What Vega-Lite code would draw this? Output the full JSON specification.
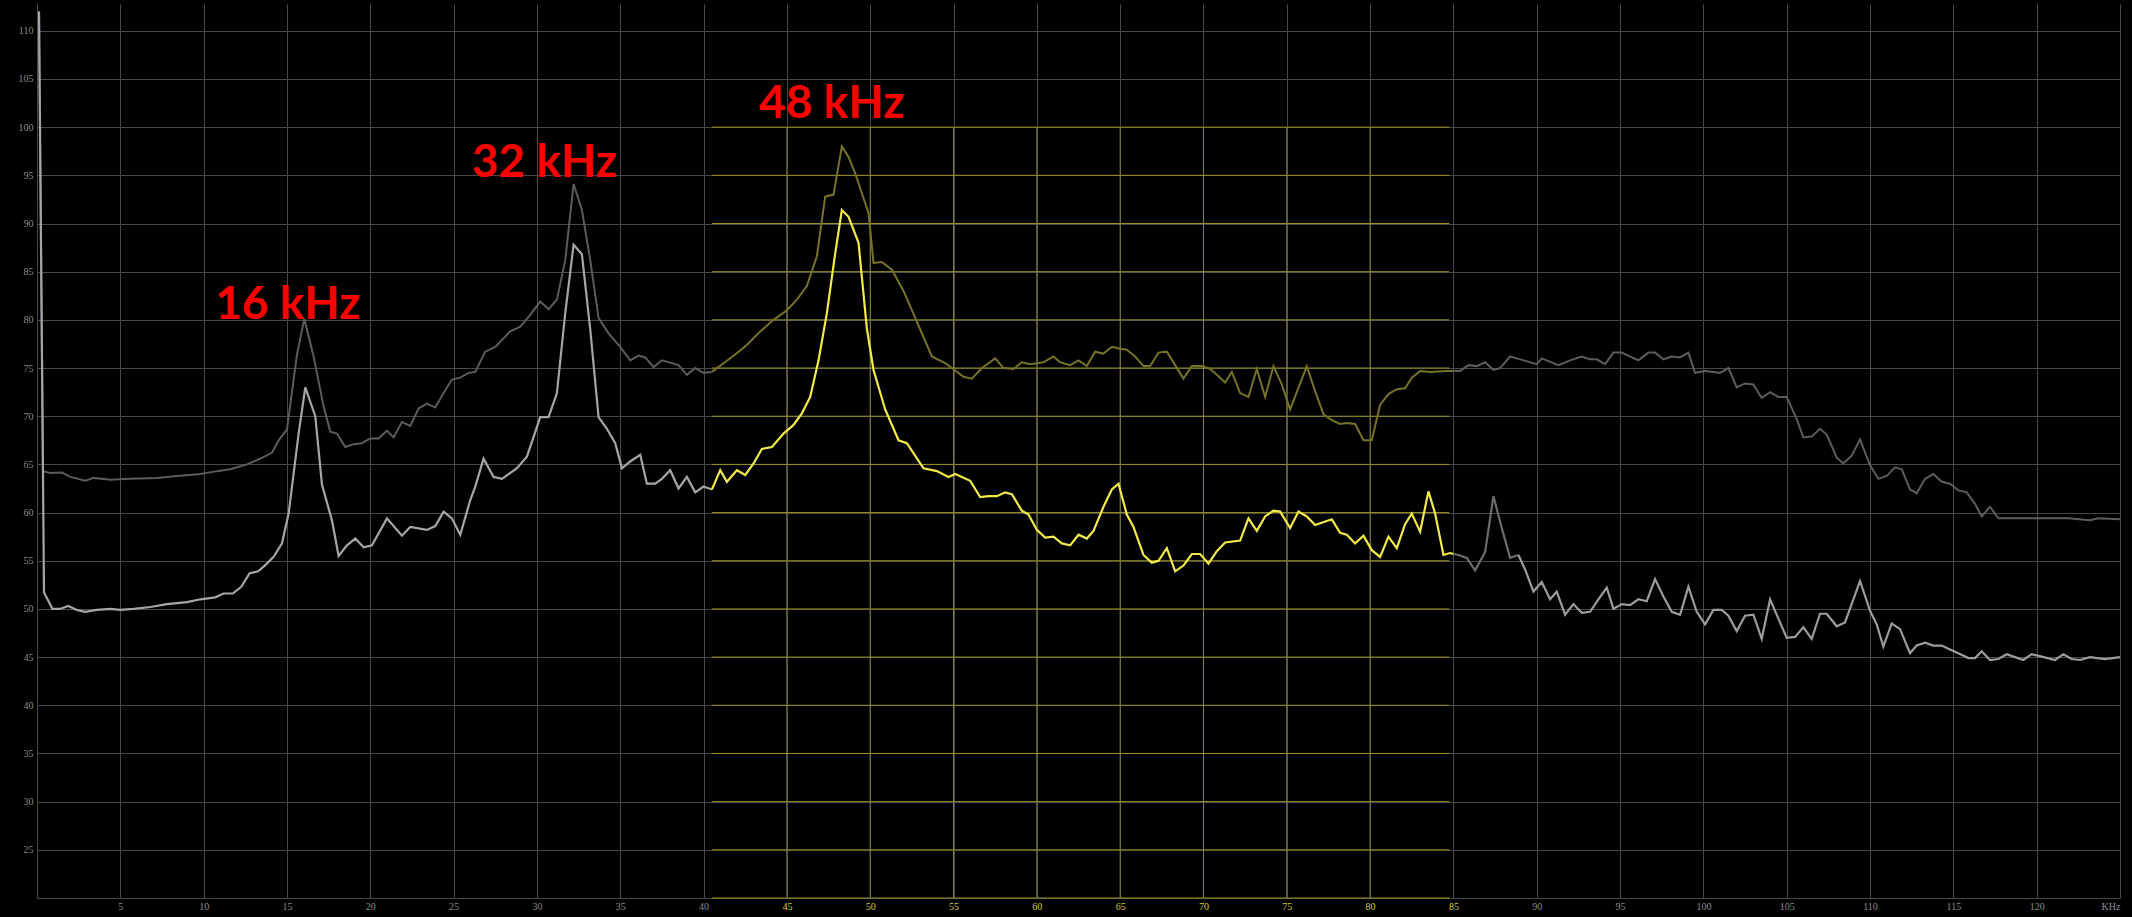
{
  "$schema": "https://vega.github.io/schema/vega-lite/v6.json",
  "autosize": {"type": "none"},
  "padding": {"left": 37, "top": 4, "right": 12, "bottom": 19},
  "width": 2083,
  "height": 894,
  "background": "#000000",
  "config": {
    "view": {"stroke": null},
    "axis": {"title": null, "domain": false, "ticks": false, "grid": true, "gridColor": "#484848", "gridWidth": 1,
      "labelFont": "Liberation Sans Narrow", "labelFontSize": 10, "labelColor": "#8c8c8c"}
  },
  "datasets": {
    "dark": [
      {"s":"d1","k":0.12,"v":112},{"s":"d1","k":0.36,"v":64.3},{"s":"d1","k":0.8,"v":64.1},{"s":"d1","k":1.5,"v":64.15},{"s":"d1","k":2.0,"v":63.7},{"s":"d1","k":2.9,"v":63.3},{"s":"d1","k":3.4,"v":63.6},{"s":"d1","k":4.4,"v":63.4},{"s":"d1","k":5.6,"v":63.5},{"s":"d1","k":7.2,"v":63.6},{"s":"d1","k":8.4,"v":63.8},{"s":"d1","k":9.8,"v":64.0},{"s":"d1","k":10.8,"v":64.3},{"s":"d1","k":11.6,"v":64.5},{"s":"d1","k":12.6,"v":65.0},{"s":"d1","k":13.4,"v":65.6},{"s":"d1","k":14.1,"v":66.2},{"s":"d1","k":14.5,"v":67.5},{"s":"d1","k":15.0,"v":68.6},{"s":"d1","k":15.6,"v":76.4},{"s":"d1","k":16.04,"v":80.1},{"s":"d1","k":16.6,"v":76.2},{"s":"d1","k":17.2,"v":71.0},{"s":"d1","k":17.6,"v":68.4},{"s":"d1","k":18.0,"v":68.2},{"s":"d1","k":18.5,"v":66.8},{"s":"d1","k":19.0,"v":67.1},{"s":"d1","k":19.5,"v":67.2},{"s":"d1","k":20.0,"v":67.7},{"s":"d1","k":20.5,"v":67.7},{"s":"d1","k":21.0,"v":68.5},{"s":"d1","k":21.4,"v":67.8},{"s":"d1","k":21.9,"v":69.4},{"s":"d1","k":22.4,"v":69.0},{"s":"d1","k":22.9,"v":70.8},{"s":"d1","k":23.4,"v":71.3},{"s":"d1","k":23.9,"v":70.9},{"s":"d1","k":24.4,"v":72.4},{"s":"d1","k":24.9,"v":73.8},{"s":"d1","k":25.4,"v":74.0},{"s":"d1","k":25.9,"v":74.5},{"s":"d1","k":26.3,"v":74.6},{"s":"d1","k":26.9,"v":76.7},{"s":"d1","k":27.5,"v":77.2},{"s":"d1","k":28.4,"v":78.8},{"s":"d1","k":29.0,"v":79.3},{"s":"d1","k":29.5,"v":80.3},{"s":"d1","k":30.2,"v":81.9},{"s":"d1","k":30.7,"v":81.1},{"s":"d1","k":31.2,"v":82.1},{"s":"d1","k":31.7,"v":86.2},{"s":"d1","k":32.2,"v":94.1},{"s":"d1","k":32.7,"v":91.4},{"s":"d1","k":33.2,"v":86.2},{"s":"d1","k":33.7,"v":80.2},{"s":"d1","k":34.3,"v":78.6},{"s":"d1","k":35.0,"v":77.2},{"s":"d1","k":35.6,"v":75.8},{"s":"d1","k":36.1,"v":76.3},{"s":"d1","k":36.5,"v":76.1},{"s":"d1","k":37.0,"v":75.1},{"s":"d1","k":37.5,"v":75.8},{"s":"d1","k":38.5,"v":75.3},{"s":"d1","k":39.0,"v":74.3},{"s":"d1","k":39.5,"v":75.0},{"s":"d1","k":40.0,"v":74.5},{"s":"d1","k":40.5,"v":74.6},
      {"s":"d2","k":40.5,"v":74.6},{"s":"d2","k":41.2,"v":75.5},{"s":"d2","k":41.9,"v":76.4},{"s":"d2","k":42.6,"v":77.4},{"s":"d2","k":43.4,"v":78.8},{"s":"d2","k":44.2,"v":80.0},{"s":"d2","k":45.0,"v":81.0},{"s":"d2","k":45.6,"v":82.1},{"s":"d2","k":46.2,"v":83.5},{"s":"d2","k":46.8,"v":86.6},{"s":"d2","k":47.3,"v":92.8},{"s":"d2","k":47.8,"v":93.0},{"s":"d2","k":48.3,"v":98.0},{"s":"d2","k":48.7,"v":96.9},{"s":"d2","k":49.1,"v":95.2},{"s":"d2","k":49.7,"v":92.1},{"s":"d2","k":49.9,"v":91.1},{"s":"d2","k":50.2,"v":85.9},{"s":"d2","k":50.7,"v":86.0},{"s":"d2","k":51.3,"v":85.2},{"s":"d2","k":52.0,"v":83.0},{"s":"d2","k":52.5,"v":81.0},{"s":"d2","k":53.0,"v":79.0},{"s":"d2","k":53.7,"v":76.2},{"s":"d2","k":54.5,"v":75.5},{"s":"d2","k":54.9,"v":75.0},{"s":"d2","k":55.6,"v":74.1},{"s":"d2","k":56.1,"v":73.9},{"s":"d2","k":56.7,"v":75.0},{"s":"d2","k":57.5,"v":76.0},{"s":"d2","k":58.0,"v":75.0},{"s":"d2","k":58.6,"v":74.9},{"s":"d2","k":59.1,"v":75.6},{"s":"d2","k":59.6,"v":75.4},{"s":"d2","k":60.4,"v":75.6},{"s":"d2","k":61.0,"v":76.2},{"s":"d2","k":61.4,"v":75.6},{"s":"d2","k":62.0,"v":75.3},{"s":"d2","k":62.5,"v":75.8},{"s":"d2","k":63.0,"v":75.2},{"s":"d2","k":63.5,"v":76.7},{"s":"d2","k":64.0,"v":76.5},{"s":"d2","k":64.5,"v":77.2},{"s":"d2","k":65.0,"v":77.0},{"s":"d2","k":65.4,"v":76.9},{"s":"d2","k":65.9,"v":76.2},{"s":"d2","k":66.4,"v":75.2},{"s":"d2","k":66.8,"v":75.2},{"s":"d2","k":67.3,"v":76.6},{"s":"d2","k":67.8,"v":76.7},{"s":"d2","k":68.3,"v":75.3},{"s":"d2","k":68.8,"v":73.9},{"s":"d2","k":69.3,"v":75.2},{"s":"d2","k":69.9,"v":75.2},{"s":"d2","k":70.4,"v":74.9},{"s":"d2","k":70.8,"v":74.3},{"s":"d2","k":71.3,"v":73.5},{"s":"d2","k":71.7,"v":74.6},{"s":"d2","k":72.2,"v":72.4},{"s":"d2","k":72.7,"v":72.0},{"s":"d2","k":73.2,"v":74.9},{"s":"d2","k":73.7,"v":72.0},{"s":"d2","k":74.2,"v":75.2},{"s":"d2","k":74.7,"v":73.3},{"s":"d2","k":75.2,"v":70.7},{"s":"d2","k":76.2,"v":75.2},{"s":"d2","k":76.7,"v":72.6},{"s":"d2","k":77.2,"v":70.2},{"s":"d2","k":77.7,"v":69.6},{"s":"d2","k":78.2,"v":69.2},{"s":"d2","k":78.6,"v":69.3},{"s":"d2","k":79.1,"v":69.2},{"s":"d2","k":79.6,"v":67.5},{"s":"d2","k":80.1,"v":67.5},{"s":"d2","k":80.6,"v":71.2},{"s":"d2","k":81.1,"v":72.3},{"s":"d2","k":81.6,"v":72.8},{"s":"d2","k":82.1,"v":72.9},{"s":"d2","k":82.5,"v":74.0},{"s":"d2","k":83.0,"v":74.7},{"s":"d2","k":83.6,"v":74.6},{"s":"d2","k":84.6,"v":74.7},{"s":"d2","k":85.0,"v":74.7},
      {"s":"d3","k":85.0,"v":74.7},{"s":"d3","k":85.4,"v":74.7},{"s":"d3","k":85.9,"v":75.3},{"s":"d3","k":86.4,"v":75.2},{"s":"d3","k":86.9,"v":75.6},{"s":"d3","k":87.4,"v":74.8},{"s":"d3","k":87.8,"v":75.0},{"s":"d3","k":88.4,"v":76.2},{"s":"d3","k":89.0,"v":75.9},{"s":"d3","k":90.0,"v":75.4},{"s":"d3","k":90.3,"v":76.0},{"s":"d3","k":91.3,"v":75.3},{"s":"d3","k":92.0,"v":75.8},{"s":"d3","k":92.7,"v":76.2},{"s":"d3","k":93.2,"v":75.9},{"s":"d3","k":93.6,"v":75.9},{"s":"d3","k":94.1,"v":75.4},{"s":"d3","k":94.6,"v":76.6},{"s":"d3","k":95.1,"v":76.6},{"s":"d3","k":96.1,"v":75.8},{"s":"d3","k":96.7,"v":76.6},{"s":"d3","k":97.1,"v":76.6},{"s":"d3","k":97.6,"v":75.9},{"s":"d3","k":98.1,"v":76.2},{"s":"d3","k":98.6,"v":76.1},{"s":"d3","k":99.1,"v":76.6},{"s":"d3","k":99.5,"v":74.5},{"s":"d3","k":100.1,"v":74.7},{"s":"d3","k":101.0,"v":74.5},{"s":"d3","k":101.5,"v":75.0},{"s":"d3","k":102.0,"v":73.0},{"s":"d3","k":102.5,"v":73.4},{"s":"d3","k":103.0,"v":73.3},{"s":"d3","k":103.5,"v":71.9},{"s":"d3","k":104.0,"v":72.5},{"s":"d3","k":104.5,"v":72.0},{"s":"d3","k":105.0,"v":72.0},{"s":"d3","k":105.6,"v":69.7},{"s":"d3","k":106.0,"v":67.8},{"s":"d3","k":106.5,"v":67.9},{"s":"d3","k":107.0,"v":68.7},{"s":"d3","k":107.4,"v":68.1},{"s":"d3","k":108.0,"v":65.7},{"s":"d3","k":108.4,"v":65.1},{"s":"d3","k":108.9,"v":65.9},{"s":"d3","k":109.4,"v":67.6},{"s":"d3","k":110.0,"v":64.9},{"s":"d3","k":110.5,"v":63.5},{"s":"d3","k":111.0,"v":63.8},{"s":"d3","k":111.5,"v":64.7},{"s":"d3","k":111.9,"v":64.5},{"s":"d3","k":112.4,"v":62.4},{"s":"d3","k":112.8,"v":62.0},{"s":"d3","k":113.3,"v":63.5},{"s":"d3","k":113.8,"v":64.0},{"s":"d3","k":114.3,"v":63.2},{"s":"d3","k":114.8,"v":63.0},{"s":"d3","k":115.3,"v":62.3},{"s":"d3","k":115.8,"v":62.1},{"s":"d3","k":116.3,"v":60.9},{"s":"d3","k":116.7,"v":59.6},{"s":"d3","k":117.2,"v":60.6},{"s":"d3","k":117.7,"v":59.4},{"s":"d3","k":119.9,"v":59.4},{"s":"d3","k":121.9,"v":59.4},{"s":"d3","k":123.2,"v":59.2},{"s":"d3","k":123.7,"v":59.4},{"s":"d3","k":125.0,"v":59.3}
    ],
    "bright": [
      {"s":"b1","k":0.12,"v":112},{"s":"b1","k":0.42,"v":51.7},{"s":"b1","k":0.93,"v":50.0},{"s":"b1","k":1.37,"v":50.0},{"s":"b1","k":1.88,"v":50.3},{"s":"b1","k":2.38,"v":49.9},{"s":"b1","k":2.88,"v":49.7},{"s":"b1","k":3.59,"v":49.9},{"s":"b1","k":4.4,"v":50.0},{"s":"b1","k":5.0,"v":49.9},{"s":"b1","k":5.8,"v":50.0},{"s":"b1","k":6.8,"v":50.2},{"s":"b1","k":7.8,"v":50.5},{"s":"b1","k":9.0,"v":50.7},{"s":"b1","k":9.8,"v":51.0},{"s":"b1","k":10.7,"v":51.2},{"s":"b1","k":11.2,"v":51.6},{"s":"b1","k":11.75,"v":51.6},{"s":"b1","k":12.26,"v":52.3},{"s":"b1","k":12.76,"v":53.7},{"s":"b1","k":13.27,"v":53.9},{"s":"b1","k":13.67,"v":54.5},{"s":"b1","k":14.2,"v":55.4},{"s":"b1","k":14.7,"v":56.8},{"s":"b1","k":15.1,"v":59.9},{"s":"b1","k":15.7,"v":68.2},{"s":"b1","k":16.1,"v":73.0},{"s":"b1","k":16.7,"v":70.0},{"s":"b1","k":17.1,"v":62.9},{"s":"b1","k":17.7,"v":59.2},{"s":"b1","k":18.1,"v":55.5},{"s":"b1","k":18.6,"v":56.6},{"s":"b1","k":19.1,"v":57.3},{"s":"b1","k":19.6,"v":56.4},{"s":"b1","k":20.1,"v":56.6},{"s":"b1","k":21.0,"v":59.4},{"s":"b1","k":21.9,"v":57.6},{"s":"b1","k":22.4,"v":58.5},{"s":"b1","k":23.4,"v":58.2},{"s":"b1","k":23.9,"v":58.6},{"s":"b1","k":24.4,"v":60.1},{"s":"b1","k":24.9,"v":59.4},{"s":"b1","k":25.4,"v":57.7},{"s":"b1","k":26.0,"v":61.3},{"s":"b1","k":26.3,"v":62.7},{"s":"b1","k":26.8,"v":65.6},{"s":"b1","k":27.4,"v":63.7},{"s":"b1","k":27.9,"v":63.5},{"s":"b1","k":28.8,"v":64.6},{"s":"b1","k":29.4,"v":65.8},{"s":"b1","k":30.2,"v":69.9},{"s":"b1","k":30.7,"v":69.9},{"s":"b1","k":31.2,"v":72.4},{"s":"b1","k":31.7,"v":80.7},{"s":"b1","k":32.2,"v":87.8},{"s":"b1","k":32.7,"v":86.8},{"s":"b1","k":33.2,"v":79.0},{"s":"b1","k":33.7,"v":69.9},{"s":"b1","k":34.2,"v":68.7},{"s":"b1","k":34.7,"v":67.2},{"s":"b1","k":35.1,"v":64.6},{"s":"b1","k":35.6,"v":65.3},{"s":"b1","k":36.2,"v":66.0},{"s":"b1","k":36.6,"v":63.0},{"s":"b1","k":37.1,"v":63.0},{"s":"b1","k":37.5,"v":63.5},{"s":"b1","k":38.0,"v":64.4},{"s":"b1","k":38.5,"v":62.5},{"s":"b1","k":39.0,"v":63.7},{"s":"b1","k":39.5,"v":62.1},{"s":"b1","k":40.0,"v":62.7},{"s":"b1","k":40.5,"v":62.4},
      {"s":"b2","k":40.5,"v":62.4},{"s":"b2","k":41.0,"v":64.4},{"s":"b2","k":41.4,"v":63.2},{"s":"b2","k":42.0,"v":64.4},{"s":"b2","k":42.5,"v":63.9},{"s":"b2","k":43.0,"v":65.1},{"s":"b2","k":43.5,"v":66.6},{"s":"b2","k":44.1,"v":66.8},{"s":"b2","k":44.8,"v":68.2},{"s":"b2","k":45.4,"v":69.1},{"s":"b2","k":45.9,"v":70.3},{"s":"b2","k":46.4,"v":72.0},{"s":"b2","k":46.9,"v":75.8},{"s":"b2","k":47.4,"v":80.7},{"s":"b2","k":47.9,"v":86.9},{"s":"b2","k":48.3,"v":91.4},{"s":"b2","k":48.7,"v":90.7},{"s":"b2","k":49.3,"v":88.0},{"s":"b2","k":49.8,"v":79.1},{"s":"b2","k":50.2,"v":74.8},{"s":"b2","k":50.9,"v":70.7},{"s":"b2","k":51.7,"v":67.5},{"s":"b2","k":52.2,"v":67.2},{"s":"b2","k":53.2,"v":64.6},{"s":"b2","k":54.0,"v":64.3},{"s":"b2","k":54.7,"v":63.7},{"s":"b2","k":55.1,"v":64.0},{"s":"b2","k":56.0,"v":63.3},{"s":"b2","k":56.6,"v":61.6},{"s":"b2","k":57.1,"v":61.7},{"s":"b2","k":57.6,"v":61.7},{"s":"b2","k":58.1,"v":62.1},{"s":"b2","k":58.5,"v":61.9},{"s":"b2","k":59.1,"v":60.2},{"s":"b2","k":59.5,"v":59.8},{"s":"b2","k":60.0,"v":58.2},{"s":"b2","k":60.5,"v":57.4},{"s":"b2","k":61.0,"v":57.5},{"s":"b2","k":61.5,"v":56.8},{"s":"b2","k":62.0,"v":56.6},{"s":"b2","k":62.5,"v":57.7},{"s":"b2","k":63.0,"v":57.3},{"s":"b2","k":63.4,"v":58.1},{"s":"b2","k":64.0,"v":60.6},{"s":"b2","k":64.5,"v":62.4},{"s":"b2","k":64.9,"v":63.0},{"s":"b2","k":65.4,"v":59.8},{"s":"b2","k":65.8,"v":58.5},{"s":"b2","k":66.4,"v":55.6},{"s":"b2","k":66.9,"v":54.8},{"s":"b2","k":67.3,"v":55.0},{"s":"b2","k":67.8,"v":56.3},{"s":"b2","k":68.3,"v":53.9},{"s":"b2","k":68.8,"v":54.5},{"s":"b2","k":69.3,"v":55.7},{"s":"b2","k":69.8,"v":55.7},{"s":"b2","k":70.3,"v":54.7},{"s":"b2","k":70.8,"v":56.0},{"s":"b2","k":71.3,"v":56.9},{"s":"b2","k":72.2,"v":57.1},{"s":"b2","k":72.7,"v":59.4},{"s":"b2","k":73.2,"v":58.1},{"s":"b2","k":73.7,"v":59.6},{"s":"b2","k":74.2,"v":60.2},{"s":"b2","k":74.6,"v":60.1},{"s":"b2","k":75.2,"v":58.4},{"s":"b2","k":75.7,"v":60.1},{"s":"b2","k":76.2,"v":59.6},{"s":"b2","k":76.7,"v":58.7},{"s":"b2","k":77.7,"v":59.3},{"s":"b2","k":78.2,"v":57.9},{"s":"b2","k":78.6,"v":57.7},{"s":"b2","k":79.1,"v":56.8},{"s":"b2","k":79.6,"v":57.6},{"s":"b2","k":80.1,"v":56.1},{"s":"b2","k":80.6,"v":55.4},{"s":"b2","k":81.1,"v":57.5},{"s":"b2","k":81.6,"v":56.3},{"s":"b2","k":82.1,"v":58.8},{"s":"b2","k":82.5,"v":59.9},{"s":"b2","k":83.0,"v":58.0},{"s":"b2","k":83.5,"v":62.2},{"s":"b2","k":83.9,"v":59.9},{"s":"b2","k":84.4,"v":55.6},{"s":"b2","k":84.8,"v":55.8},{"s":"b2","k":85.0,"v":55.7},
      {"s":"b3","k":85.0,"v":55.7},{"s":"b3","k":85.3,"v":55.6},{"s":"b3","k":85.8,"v":55.3},{"s":"b3","k":86.3,"v":54.0},{"s":"b3","k":86.9,"v":55.9},{"s":"b3","k":87.4,"v":61.7},{"s":"b3","k":87.9,"v":58.4},{"s":"b3","k":88.4,"v":55.3},{"s":"b3","k":88.9,"v":55.6},
      {"s":"b4","k":88.9,"v":55.6},{"s":"b4","k":89.3,"v":54.1},{"s":"b4","k":89.8,"v":51.8},{"s":"b4","k":90.3,"v":52.8},{"s":"b4","k":90.8,"v":51.0},{"s":"b4","k":91.2,"v":51.8},{"s":"b4","k":91.7,"v":49.4},{"s":"b4","k":92.2,"v":50.5},{"s":"b4","k":92.7,"v":49.6},{"s":"b4","k":93.2,"v":49.7},{"s":"b4","k":93.7,"v":51.0},{"s":"b4","k":94.2,"v":52.2},{"s":"b4","k":94.6,"v":50.0},{"s":"b4","k":95.1,"v":50.5},{"s":"b4","k":95.6,"v":50.4},{"s":"b4","k":96.1,"v":51.0},{"s":"b4","k":96.6,"v":50.8},{"s":"b4","k":97.1,"v":53.1},{"s":"b4","k":97.6,"v":51.3},{"s":"b4","k":98.1,"v":49.7},{"s":"b4","k":98.6,"v":49.4},{"s":"b4","k":99.1,"v":52.3},{"s":"b4","k":99.6,"v":49.7},{"s":"b4","k":100.1,"v":48.4},{"s":"b4","k":100.6,"v":49.9},{"s":"b4","k":101.1,"v":49.9},{"s":"b4","k":101.5,"v":49.3},{"s":"b4","k":102.0,"v":47.7},{"s":"b4","k":102.5,"v":49.3},{"s":"b4","k":103.0,"v":49.4},{"s":"b4","k":103.5,"v":46.9},{"s":"b4","k":104.0,"v":51.0},{"s":"b4","k":104.5,"v":49.0},{"s":"b4","k":105.0,"v":47.0},{"s":"b4","k":105.5,"v":47.1},{"s":"b4","k":106.0,"v":48.1},{"s":"b4","k":106.5,"v":46.9},{"s":"b4","k":107.0,"v":49.5},{"s":"b4","k":107.4,"v":49.5},{"s":"b4","k":108.0,"v":48.2},{"s":"b4","k":108.5,"v":48.6},{"s":"b4","k":109.0,"v":51.0},{"s":"b4","k":109.4,"v":52.9},{"s":"b4","k":110.0,"v":49.8},{"s":"b4","k":110.4,"v":48.4},{"s":"b4","k":110.8,"v":46.1},{"s":"b4","k":111.3,"v":48.5},{"s":"b4","k":111.8,"v":47.9},{"s":"b4","k":112.4,"v":45.4},{"s":"b4","k":112.8,"v":46.2},{"s":"b4","k":113.3,"v":46.5},{"s":"b4","k":113.8,"v":46.2},{"s":"b4","k":114.3,"v":46.2},{"s":"b4","k":114.8,"v":45.8},{"s":"b4","k":115.3,"v":45.4},{"s":"b4","k":115.9,"v":44.9},{"s":"b4","k":116.3,"v":44.9},{"s":"b4","k":116.7,"v":45.6},{"s":"b4","k":117.2,"v":44.7},{"s":"b4","k":117.7,"v":44.8},{"s":"b4","k":118.2,"v":45.3},{"s":"b4","k":118.7,"v":45.0},{"s":"b4","k":119.2,"v":44.7},{"s":"b4","k":119.7,"v":45.3},{"s":"b4","k":120.2,"v":45.1},{"s":"b4","k":121.1,"v":44.7},{"s":"b4","k":121.6,"v":45.3},{"s":"b4","k":122.1,"v":44.8},{"s":"b4","k":122.6,"v":44.7},{"s":"b4","k":123.2,"v":45.0},{"s":"b4","k":124.1,"v":44.8},{"s":"b4","k":125.0,"v":45.0}
    ],
    "yh": [{"v":20},{"v":25},{"v":30},{"v":35},{"v":40},{"v":45},{"v":50},{"v":55},{"v":60},{"v":65},{"v":70},{"v":75},{"v":80},{"v":85},{"v":90},{"v":95},{"v":100}],
    "yv": [{"k":45},{"k":50},{"k":55},{"k":60},{"k":65},{"k":70},{"k":75},{"k":80}],
    "labels": [{"k":15.05,"v":80.07,"t":"16 kHz"},{"k":30.44,"v":94.87,"t":"32 kHz"},{"k":47.69,"v":100.92,"t":"48 kHz"}]
  },
  "layer": [
    {
      "data": {"name": "dark"},
      "mark": {"type": "line", "strokeWidth": 2, "interpolate": "linear", "opacity": 0},
      "encoding": {
        "x": {"field": "k", "type": "quantitative", "scale": {"domain": [0, 125], "nice": false, "zero": false},
          "axis": {"orient": "bottom", "values": [0,5,10,15,20,25,30,35,40,45,50,55,60,65,70,75,80,85,90,95,100,105,110,115,120,125],
            "labelExpr": "datum.value == 0 ? '' : (datum.value == 125 ? 'KHz' : datum.label)", "labelFlush": true, "labelPadding": 3,
            "labelColor": {"condition": {"test": "datum.value >= 45 && datum.value <= 85", "value": "#d6ce3c"}, "value": "#8c8c8c"}}},
        "y": {"field": "v", "type": "quantitative", "scale": {"domain": [20, 112.78], "nice": false, "zero": false},
          "axis": {"orient": "left", "values": [20,25,30,35,40,45,50,55,60,65,70,75,80,85,90,95,100,105,110],
            "labelExpr": "datum.value == 20 ? '' : datum.label", "labelPadding": 4}},
        "detail": {"field": "s"},
        "color": {"field": "s", "type": "nominal", "legend": null,
          "scale": {"domain": ["d1","d2","d3","b1","b2","b3","b4"], "range": ["#5c5c5c","#767228","#5c5c5c","#a6a6a6","#f3ea4a","#6c6c6c","#9c9c9c"]}}
      }
    },
    {
      "data": {"name": "yh"},
      "mark": {"type": "rule", "color": "#9a9420", "strokeWidth": 1},
      "encoding": {
        "x": {"datum": 40.5, "type": "quantitative"},
        "x2": {"datum": 84.75},
        "y": {"field": "v", "type": "quantitative"}
      }
    },
    {
      "data": {"name": "yv"},
      "mark": {"type": "rule", "color": "#86823c", "strokeWidth": 1},
      "encoding": {
        "x": {"field": "k", "type": "quantitative"},
        "y": {"datum": 20, "type": "quantitative"},
        "y2": {"datum": 100}
      }
    },
    {
      "data": {"name": "dark"},
      "mark": {"type": "line", "strokeWidth": 2, "interpolate": "linear"},
      "encoding": {
        "x": {"field": "k", "type": "quantitative"},
        "y": {"field": "v", "type": "quantitative"},
        "detail": {"field": "s"},
        "color": {"field": "s", "type": "nominal", "legend": null}
      }
    },
    {
      "data": {"name": "bright"},
      "mark": {"type": "line", "strokeWidth": 2.2, "interpolate": "linear"},
      "encoding": {
        "x": {"field": "k", "type": "quantitative"},
        "y": {"field": "v", "type": "quantitative"},
        "detail": {"field": "s"},
        "color": {"field": "s", "type": "nominal", "legend": null}
      }
    },
    {
      "data": {"name": "labels"},
      "mark": {"type": "text", "font": "Lato", "fontWeight": "bold", "fontSize": 46, "color": "#ff0000", "align": "center", "baseline": "alphabetic"},
      "encoding": {
        "x": {"field": "k", "type": "quantitative"},
        "y": {"field": "v", "type": "quantitative"},
        "text": {"field": "t"}
      }
    }
  ]
}
